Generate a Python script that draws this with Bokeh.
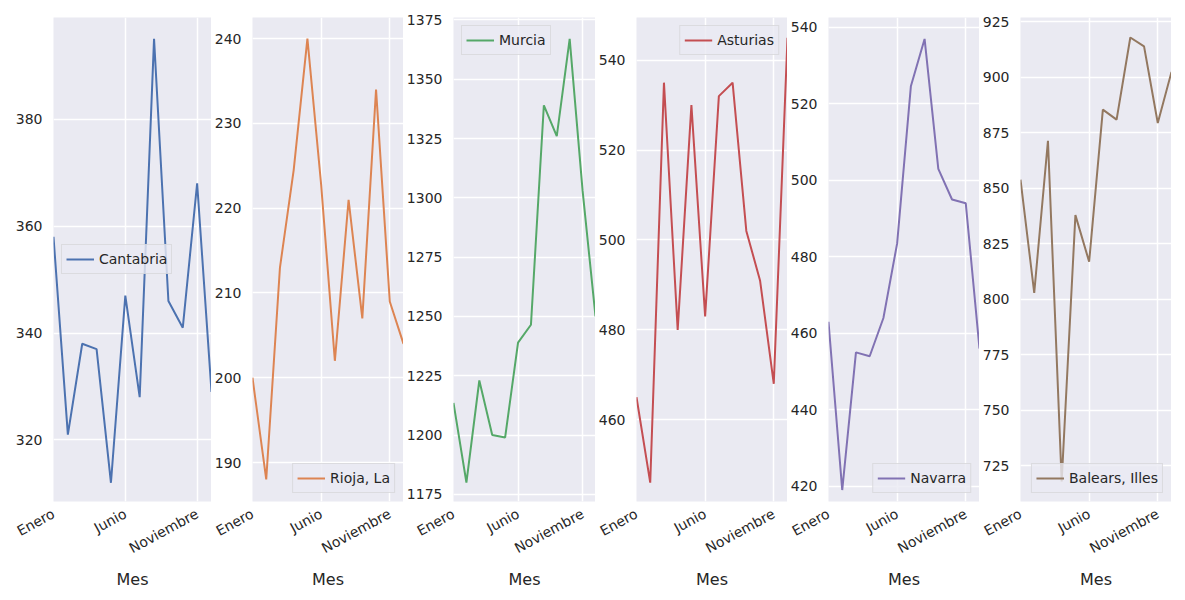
from bokeh.plotting import figure
from bokeh.layouts import row
from bokeh.models import Range1d, FixedTicker
from bokeh.embed import file_html
from bokeh.resources import INLINE

months = ["Enero","Febrero","Marzo","Abril","Mayo","Junio","Julio","Agosto","Septiembre","Octubre","Noviembre","Diciembre"]
cantabria = [358,321,338,337,312,347,328,395,346,341,368,329]
rioja = [200,188,213,224.5,240,222.8,202,221,207,234,209,204]
murcia = [1213.6,1180,1223,1200,1199,1239,1246.5,1339,1326,1367,1303,1250]
asturias = [465,446,535,480,530,483,532,535,502,491,468,545]
navarra = [463,419,455,454,464,483.5,524.6,537,503,495,494,456]
baleares = [854,803,871.5,718,838,817,885.5,881,918,914,879.5,902.5]

series = [
    ("Cantabria", cantabria, "#4C72B0", (308.5, 399), [320,340,360,380], "center_left"),
    ("Rioja, La", rioja, "#DD8452", (185.4, 242.5), [190,200,210,220,230,240], "bottom_right"),
    ("Murcia", murcia, "#55A868", (1172, 1376), [1175,1200,1225,1250,1275,1300,1325,1350,1375], "top_left"),
    ("Asturias", asturias, "#C44E52", (441.8, 549.5), [460,480,500,520,540], "top_right"),
    ("Navarra", navarra, "#8172B3", (416, 542.6), [420,440,460,480,500,520,540], "bottom_right"),
    ("Balears, Illes", baleares, "#937860", (709, 927), [725,750,775,800,825,850,875,900,925], "bottom_right"),
]

figs = []
for i, (name, vals, col, yr, yt, loc) in enumerate(series):
    w = 211 if i == 0 else 192
    p = figure(width=w, height=592, output_backend="svg", toolbar_location=None,
               x_range=Range1d(0, 11), y_range=Range1d(*yr),
               min_border_left=53 if i == 0 else 34, min_border_right=0,
               min_border_top=17, min_border_bottom=89)
    p.background_fill_color = "#EAEAF2"
    p.border_fill_color = "white"
    p.outline_line_color = None
    p.line(list(range(12)), vals, line_color=col, line_width=2, legend_label=name)
    p.xaxis.ticker = FixedTicker(ticks=[0, 5, 10])
    p.xaxis.major_label_overrides = {0: "Enero", 5: "Junio", 10: "Noviembre"}
    p.xaxis.major_label_orientation = 0.5
    p.yaxis.ticker = FixedTicker(ticks=yt)
    p.xaxis.axis_label = "Mes"
    for ax in (p.xaxis, p.yaxis):
        ax.axis_line_color = None
        ax.major_tick_line_color = None
        ax.minor_tick_line_color = None
        ax.major_label_text_font = "DejaVu Sans"
        ax.major_label_text_font_size = "14px"
        ax.major_label_text_color = "#262626"
    p.xaxis.axis_label_text_font = "DejaVu Sans"
    p.xaxis.axis_label_text_font_style = "normal"
    p.xaxis.axis_label_text_font_size = "16px"
    p.xaxis.axis_label_text_color = "#262626"
    p.xaxis.axis_label_standoff = 4
    p.grid.grid_line_color = "white"
    p.grid.grid_line_width = 1.5
    p.legend.location = loc
    p.legend.background_fill_color = "#EAEAF2"
    p.legend.background_fill_alpha = 0.8
    p.legend.border_line_color = "#CCCCCC"
    p.legend.label_text_font = "DejaVu Sans"
    p.legend.label_text_font_size = "14px"
    p.legend.label_text_color = "#262626"
    p.legend.glyph_width = 28
    p.legend.padding = 4
    p.legend.margin = 8
    figs.append(p)

layout = row(*figs, spacing=0)
open("out.html", "w").write(file_html(layout, INLINE))
